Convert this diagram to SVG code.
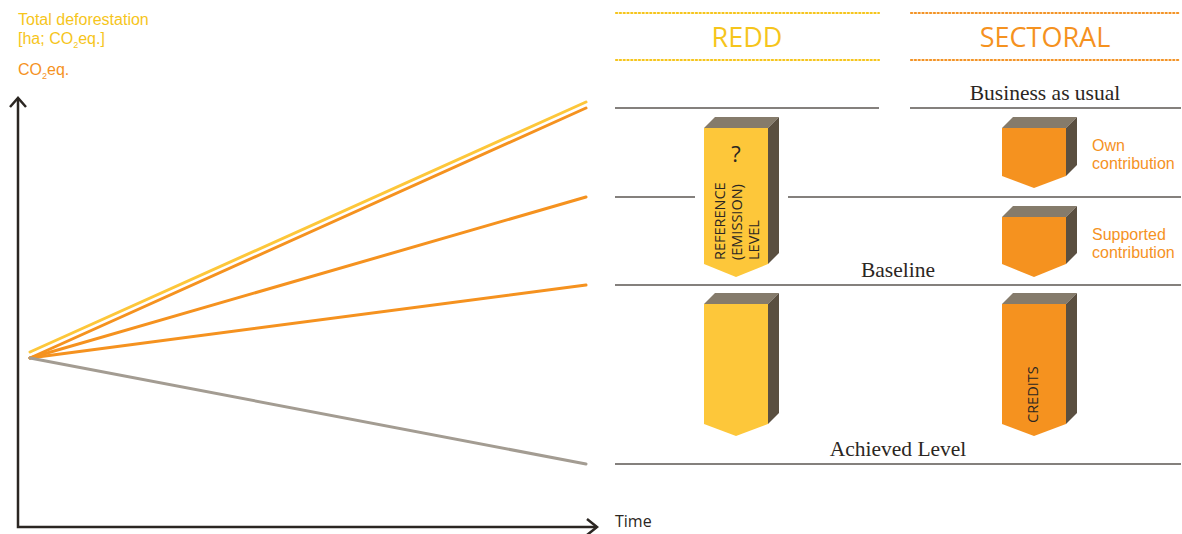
<svg xmlns="http://www.w3.org/2000/svg" width="1182" height="534" viewBox="0 0 1182 534">
<style>
.sans{font-family:"Open Sans","Liberation Sans",sans-serif}
.ls{font-family:"Liberation Sans",sans-serif}
.serif{font-family:"Liberation Serif",serif;font-size:21.5px;fill:#2b2622}
.rule{stroke:#5b5652;stroke-width:1.3;fill:none}
.dotY{stroke:#f6c51b;stroke-width:2.2;stroke-dasharray:1.2 2.6;stroke-linecap:round}
.dotO{stroke:#f39325;stroke-width:2.2;stroke-dasharray:1.2 2.6;stroke-linecap:round}
.top{fill:#857b6b}
.side{fill:#5a4f40}
.yel{fill:#fdc73a}
.org{fill:#f5921f}
.lbl{font-family:"Liberation Sans",sans-serif;font-size:16px;fill:#f5921f}
.vt{font-size:14.5px;fill:#2b2622}
</style>
<g id="axes" fill="none" stroke="#2b2622" stroke-width="2.5">
<polyline points="18,98 18,527 597,527"/>
<polyline points="10,107 18,98 26,107"/>
<polyline points="587,519 597,527 587,535"/>
</g>
<g id="connectors" stroke-width="3" stroke-linecap="round">
<line x1="30" y1="352" x2="586" y2="102" stroke="#fdc73a"/>
<line x1="30" y1="358" x2="586" y2="108" stroke="#f5921f"/>
<line x1="30" y1="358" x2="586" y2="197" stroke="#f5921f"/>
<line x1="30" y1="358" x2="586" y2="285" stroke="#f5921f"/>
<line x1="30" y1="358" x2="586" y2="464" stroke="#a39c92"/>
</g>
<g id="axis-labels" class="ls">
<text x="18" y="25" font-size="16" fill="#f6c51b">Total deforestation</text>
<text x="18" y="44" font-size="16" fill="#f6c51b">[ha; CO<tspan font-size="9" dy="4">2</tspan><tspan dy="-4">eq.]</tspan></text>
<text x="18" y="75" font-size="16" fill="#f5921f">CO<tspan font-size="9" dy="4">2</tspan><tspan dy="-4">eq.</tspan></text>
<text class="sans" x="615" y="527" font-size="16" fill="#2b2622">Time</text>
</g>
<g id="headers">
<line class="dotY" x1="616" y1="13" x2="879" y2="13"/>
<line class="dotY" x1="616" y1="60" x2="879" y2="60"/>
<line class="dotO" x1="911" y1="13" x2="1180" y2="13"/>
<line class="dotO" x1="911" y1="60" x2="1180" y2="60"/>
<text class="sans" x="747" y="47" font-size="27" text-anchor="middle" fill="#f6c51b">REDD</text>
<text class="sans" x="1045" y="47" font-size="27" text-anchor="middle" fill="#f5921f">SECTORAL</text>
</g>
<g id="levels">
<line class="rule" x1="615" y1="108" x2="879" y2="108"/>
<line class="rule" x1="910" y1="108" x2="1181" y2="108"/>
<line class="rule" x1="615" y1="197" x2="695" y2="197"/>
<line class="rule" x1="788" y1="197" x2="1181" y2="197"/>
<line class="rule" x1="615" y1="285" x2="1181" y2="285"/>
<line class="rule" x1="615" y1="464" x2="1181" y2="464"/>
<text class="serif" x="1045" y="100" text-anchor="middle">Business as usual</text>
<text class="serif" x="898" y="277" text-anchor="middle">Baseline</text>
<text class="serif" x="898" y="456" text-anchor="middle">Achieved Level</text>
</g>
<g id="redd-reference">
<polygon class="top" points="704,128 715,117 779,117 768,128"/>
<polygon class="side" points="768,128 779,117 779,253 768,264"/>
<polygon class="yel" points="704,128 768,128 768,264 736,277 704,264"/>
<text class="sans" x="736" y="162" font-size="22" text-anchor="middle" fill="#2b2622">?</text>
<g class="sans vt" transform="translate(0,260) rotate(-90)">
<text x="0" y="725">REFERENCE</text>
<text x="0" y="742">(EMISSION)</text>
<text x="0" y="759">LEVEL</text>
</g>
</g>
<g id="redd-achieved">
<polygon class="top" points="704,304 715,293 779,293 768,304"/>
<polygon class="side" points="768,304 779,293 779,413 768,424"/>
<polygon class="yel" points="704,304 768,304 768,424 736,436 704,424"/>
</g>
<g id="sect-own">
<polygon class="top" points="1002,128 1013,117 1077,117 1066,128"/>
<polygon class="side" points="1066,128 1077,117 1077,165 1066,176"/>
<polygon class="org" points="1002,128 1066,128 1066,176 1034,188 1002,176"/>
<text class="lbl" x="1092" y="151">Own</text>
<text class="lbl" x="1092" y="169">contribution</text>
</g>
<g id="sect-supported">
<polygon class="top" points="1002,217 1013,206 1077,206 1066,217"/>
<polygon class="side" points="1066,217 1077,206 1077,253 1066,264"/>
<polygon class="org" points="1002,217 1066,217 1066,264 1034,277 1002,264"/>
<text class="lbl" x="1092" y="240">Supported</text>
<text class="lbl" x="1092" y="258">contribution</text>
</g>
<g id="sect-credits">
<polygon class="top" points="1002,304 1013,293 1077,293 1066,304"/>
<polygon class="side" points="1066,304 1077,293 1077,413 1066,424"/>
<polygon class="org" points="1002,304 1066,304 1066,424 1034,436 1002,424"/>
<text class="sans vt" transform="translate(1038,423) rotate(-90)">CREDITS</text>
</g>
</svg>
